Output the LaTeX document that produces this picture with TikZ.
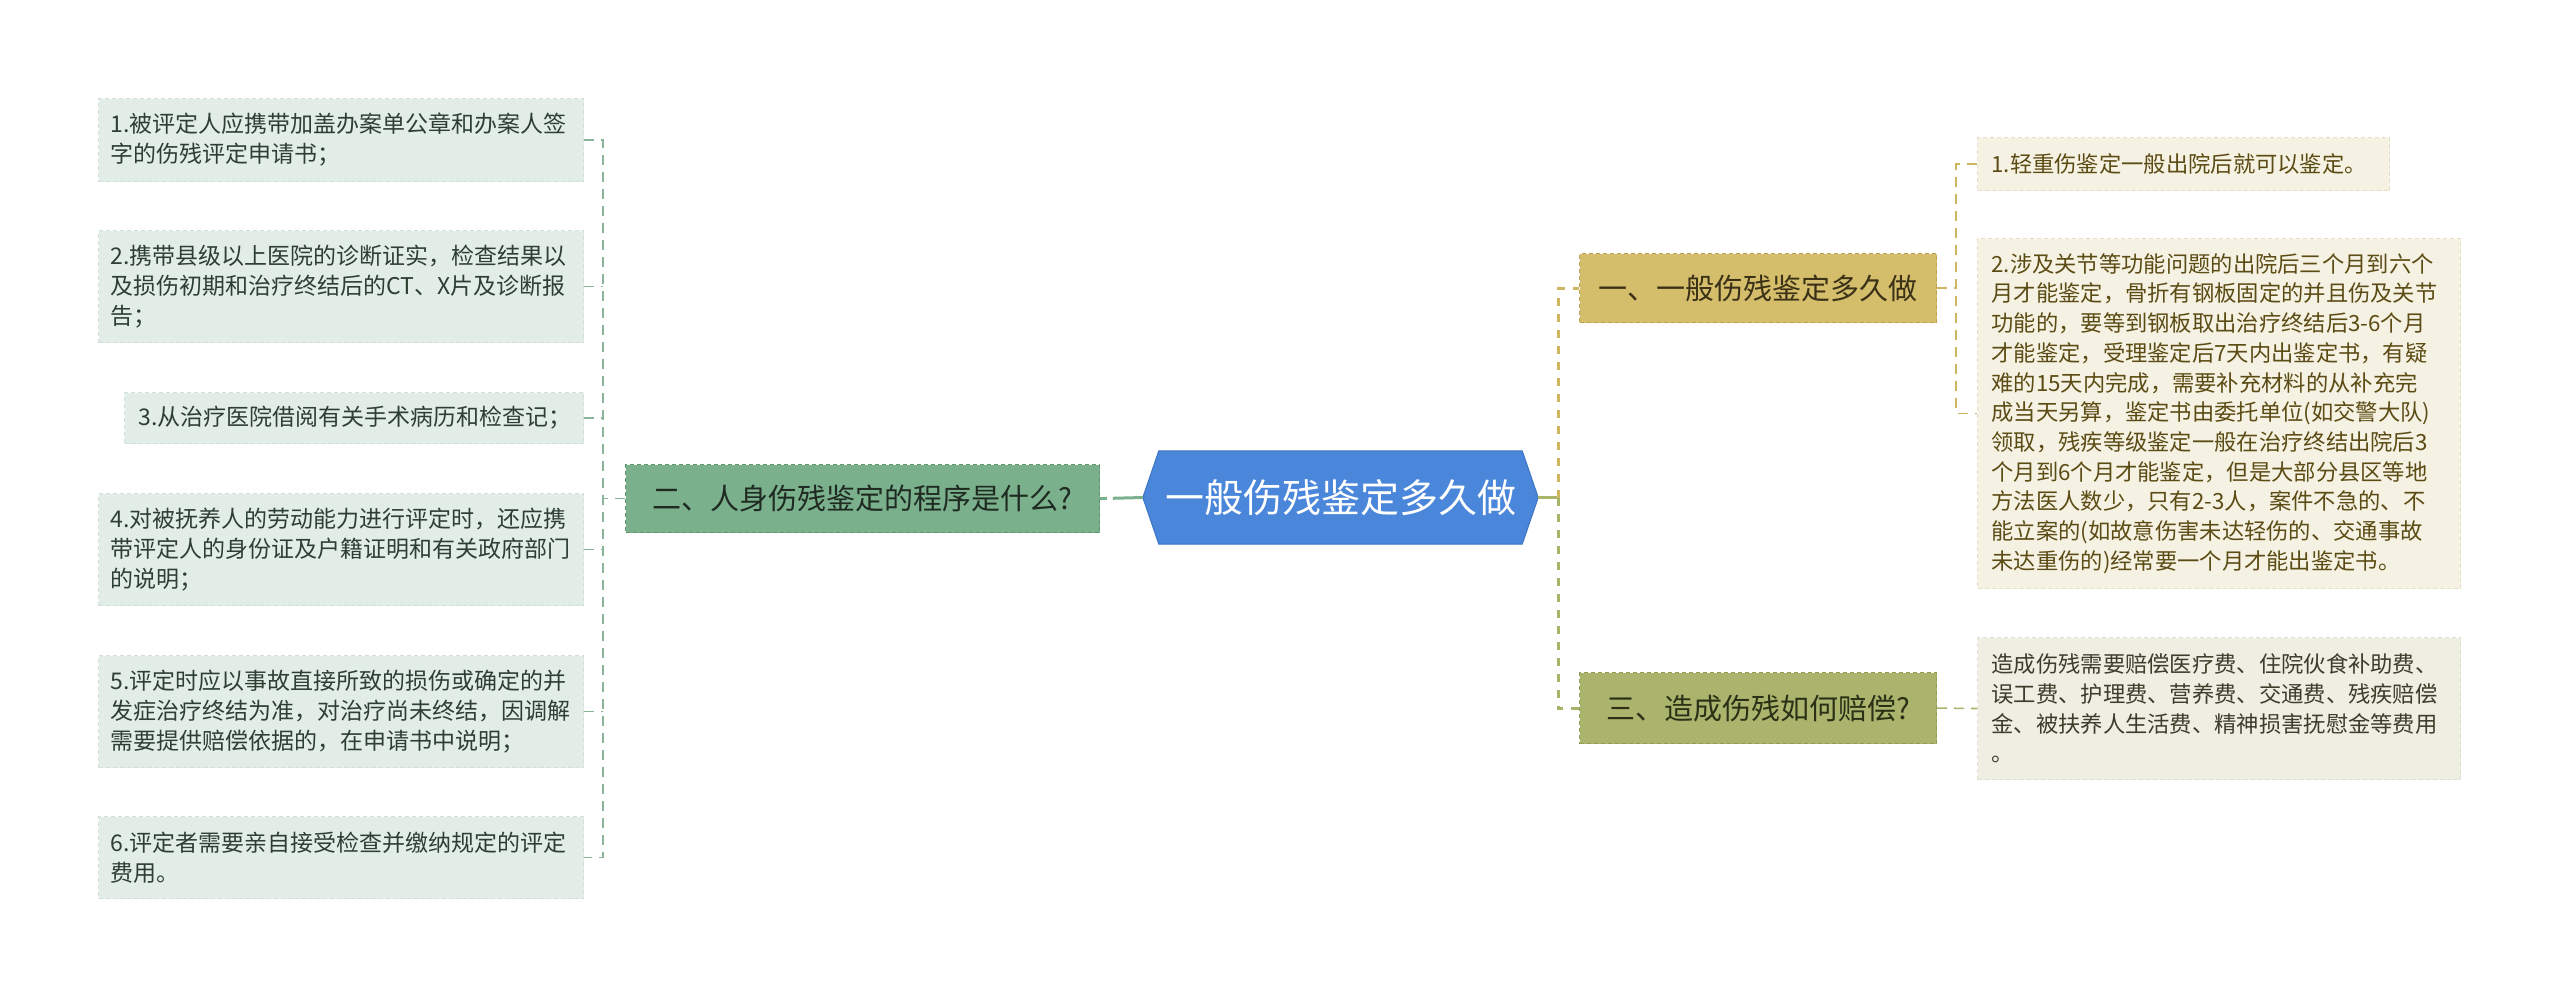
\documentclass[tikz,border=0pt]{standalone}
\usepackage{fontspec}
\setmainfont{Noto Sans CJK SC}
\pgfdeclarelayer{paper}
\pgfdeclarelayer{bg}
\pgfsetlayers{paper,bg,main}
\definecolor{lfill}{HTML}{E3EDE7}
\definecolor{lborder}{HTML}{D2E0D7}
\definecolor{ltext}{HTML}{2D3E33}
\definecolor{lconn}{HTML}{8AB598}
\definecolor{twofill}{HTML}{7AB08B}
\definecolor{twoborder}{HTML}{5F9670}
\definecolor{twotext}{HTML}{1F2A22}
\definecolor{cfill}{HTML}{4A86D9}
\definecolor{cborder}{HTML}{3D74C4}
\definecolor{onefill}{HTML}{D4BD6B}
\definecolor{oneborder}{HTML}{BBA24F}
\definecolor{onetext}{HTML}{3A3117}
\definecolor{gold}{HTML}{CDB562}
\definecolor{threefill}{HTML}{AAB46C}
\definecolor{threeborder}{HTML}{929C55}
\definecolor{threetext}{HTML}{2C3016}
\definecolor{olive}{HTML}{A9B46B}
\definecolor{rfill}{HTML}{F6F2E3}
\definecolor{rborder}{HTML}{E6DEC6}
\definecolor{rtext}{HTML}{5B4B14}
\definecolor{sfill}{HTML}{EEEEE3}
\definecolor{sborder}{HTML}{E0E0D2}
\definecolor{stext}{HTML}{3D3D2B}
\tikzset{
  lleaf/.style={rectangle, anchor=north west, fill=lfill, draw=lborder, dash pattern=on 4pt off 3pt, line width=1pt,
    text=ltext, font=\fontsize{23}{30}\selectfont, align=left, inner xsep=12pt, inner ysep=0pt, text width=461pt},
  rleaf/.style={rectangle, anchor=north west, fill=rfill, draw=rborder, dash pattern=on 4pt off 3pt, line width=1pt,
    text=rtext, font=\fontsize{22.3}{29.7}\selectfont, align=left, inner xsep=14pt, inner ysep=0pt, text width=455pt},
  branch/.style={rectangle, anchor=north west, dash pattern=on 4pt off 3pt, line width=1.2pt,
    font=\fontsize{29}{34}\selectfont, inner sep=0pt},
  thinconn/.style={line width=1.6pt, dash pattern=on 10pt off 7pt},
  thickconn/.style={line width=3pt, dash pattern=on 8pt off 8pt},
}
\begin{document}
\begin{tikzpicture}[x=1pt,y=-1pt]
\begin{pgfonlayer}{paper}
\fill[white] (0,0) rectangle (2560,997);
\end{pgfonlayer}
\useasboundingbox (0,0) rectangle (2560,997);
\coordinate (lbus) at (603,0);
\coordinate (rbus) at (1558,0);
\coordinate (rbusa) at (1956,0);

% center
\node[rectangle, minimum width=395pt, minimum height=93pt, inner sep=0pt, text=white,
  font=\fontsize{39}{44}\selectfont] (center) at (1340.5,497.5) {一般伤残鉴定多久做};
\begin{pgfonlayer}{bg}
\filldraw[fill=cfill, draw=cborder, line width=1pt]
  (center.west) -- ([xshift=16pt]center.north west) -- ([xshift=-16pt]center.north east)
  -- (center.east) -- ([xshift=-16pt]center.south east) -- ([xshift=16pt]center.south west) -- cycle;
\end{pgfonlayer}

% left branch
\node[branch, fill=twofill, draw=twoborder, text=twotext, minimum width=474pt, minimum height=68pt] (n2) at (625,464) {二、人身伤残鉴定的程序是什么?};

\node[lleaf, minimum height=83pt] (b1) at (98,98) {1.被评定人应携带加盖办案单公章和办案人签\\字的伤残评定申请书；};
\node[lleaf, minimum height=112pt] (b2) at (98,230) {2.携带县级以上医院的诊断证实，检查结果以\\及损伤初期和治疗终结后的CT、X片及诊断报\\告；};
\node[lleaf, minimum height=51pt, text width=431pt, inner xsep=14pt] (b3) at (124,392) {3.从治疗医院借阅有关手术病历和检查记；};
\node[lleaf, minimum height=112pt] (b4) at (98,493) {4.对被抚养人的劳动能力进行评定时，还应携\\带评定人的身份证及户籍证明和有关政府部门\\的说明；};
\node[lleaf, minimum height=112pt] (b5) at (98,655) {5.评定时应以事故直接所致的损伤或确定的并\\发症治疗终结为准，对治疗尚未终结，因调解\\需要提供赔偿依据的，在申请书中说明；};
\node[lleaf, minimum height=82pt] (b6) at (98,816) {6.评定者需要亲自接受检查并缴纳规定的评定\\费用。};

% right branches
\node[branch, fill=onefill, draw=oneborder, text=onetext, minimum width=357pt, minimum height=69pt] (n1) at (1579,253) {一、一般伤残鉴定多久做};
\node[branch, fill=threefill, draw=threeborder, text=threetext, minimum width=357pt, minimum height=71pt] (n3) at (1579,672) {三、造成伤残如何赔偿?};

\node[rleaf, minimum height=53pt, text width=384pt] (r1) at (1977,137) {1.轻重伤鉴定一般出院后就可以鉴定。};
\node[rleaf, minimum height=350pt] (r2) at (1977,238) {2.涉及关节等功能问题的出院后三个月到六个\\月才能鉴定，骨折有钢板固定的并且伤及关节\\功能的，要等到钢板取出治疗终结后3-6个月\\才能鉴定，受理鉴定后7天内出鉴定书，有疑\\难的15天内完成，需要补充材料的从补充完\\成当天另算，鉴定书由委托单位(如交警大队)\\领取，残疾等级鉴定一般在治疗终结出院后3\\个月到6个月才能鉴定，但是大部分县区等地\\方法医人数少，只有2-3人，案件不急的、不\\能立案的(如故意伤害未达轻伤的、交通事故\\未达重伤的)经常要一个月才能出鉴定书。};
\node[rleaf, fill=sfill, draw=sborder, text=stext, minimum height=142pt] (r3) at (1977,637) {造成伤残需要赔偿医疗费、住院伙食补助费、\\误工费、护理费、营养费、交通费、残疾赔偿\\金、被扶养人生活费、精神损害抚慰金等费用\\。};

% connectors: center to left branch
\draw[twofill, line width=3pt, dash pattern=on 30pt off 6pt] (center.west) -- (n2.east);
% left bracket
\draw[lconn, thinconn] (b1.east) -- (b1.east -| lbus) -- (b6.east -| lbus) -- (b6.east);
\foreach \b in {b2,b3,b4,b5}{
  \draw[lconn, thinconn] (\b.east) -- (\b.east -| lbus);
}
\draw[lconn, thinconn] (n2.west) -- (n2.west -| lbus);

% center to right branches
\draw[olive, line width=3pt] (center.east) -- (center.east -| rbus);
\draw[gold, thickconn] (center.east -| rbus) -- (n1.west -| rbus) -- (n1.west);
\draw[olive, thickconn] (center.east -| rbus) -- (n3.west -| rbus) -- (n3.west);

% branch one to its leaves
\draw[gold, thinconn] (n1.east) -- (n1.east -| rbusa);
\draw[gold, thinconn] (r1.west) -- (r1.west -| rbusa) -- (r2.west -| rbusa) -- (r2.west);
% branch three to its leaf
\draw[olive, thinconn] (n3.east) -- (r3.west);
\end{tikzpicture}
\end{document}
